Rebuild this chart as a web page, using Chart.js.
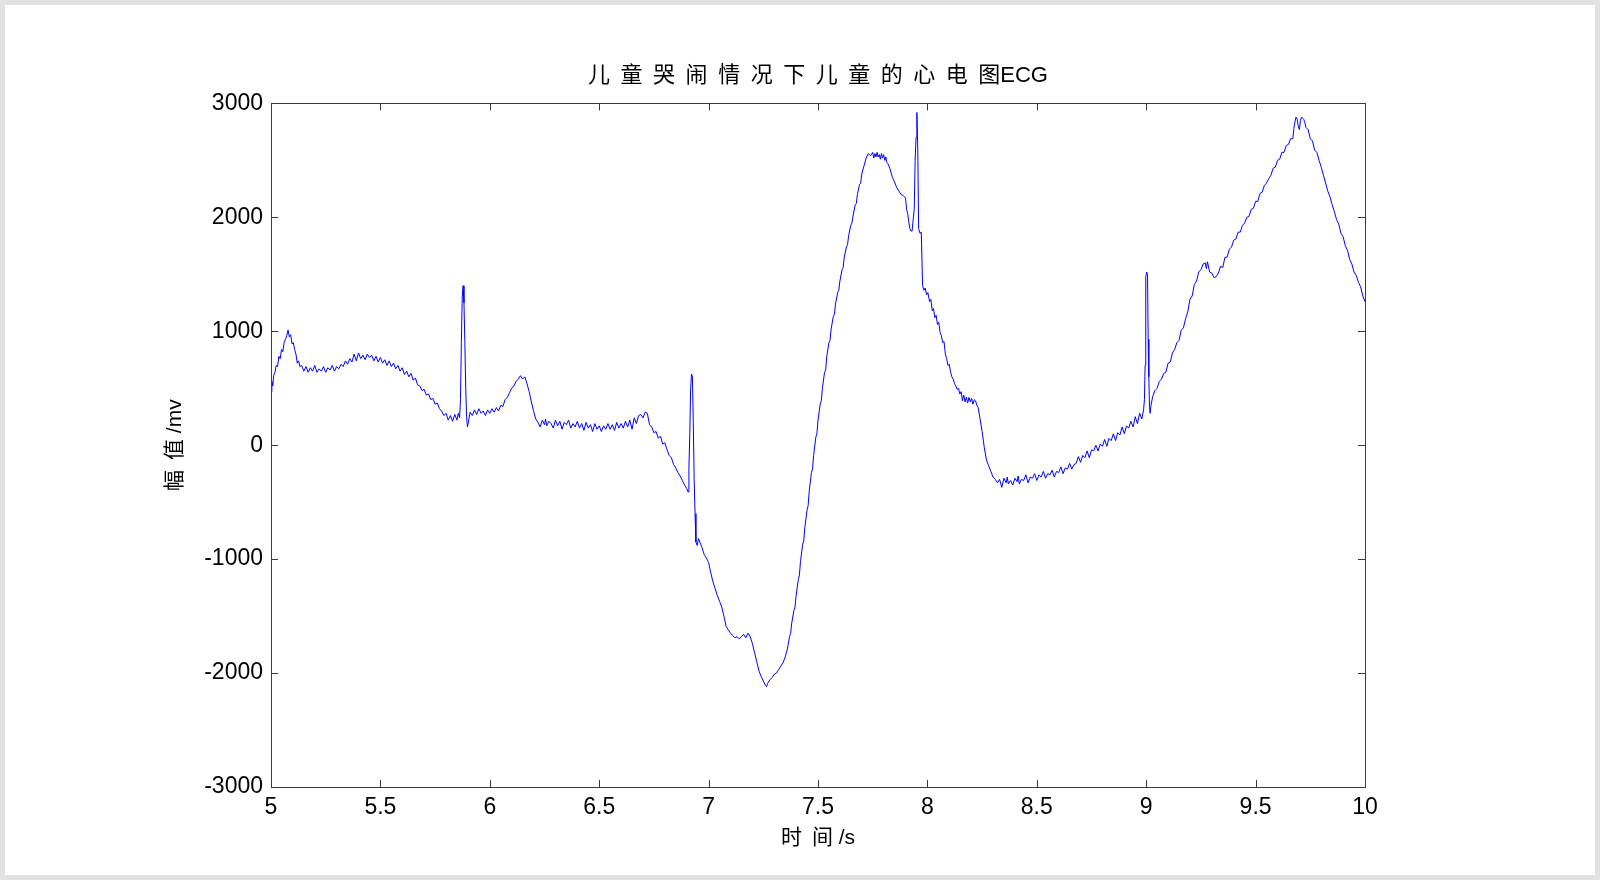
<!DOCTYPE html>
<html>
<head>
<meta charset="utf-8">
<script src="https://cdn.jsdelivr.net/npm/chart.js@4.4.1/dist/chart.umd.min.js"></script>
<style>
  html, body { margin: 0; padding: 0; background: #e2e2e2; }
  #frame { position: absolute; left: 5px; top: 5px; width: 1590px; height: 870px; background: #fff; }
</style>
</head>
<body>
<div id="frame"><canvas id="ecgChart"></canvas></div>
<script>
// 儿童哭闹情况下儿童的心电图 ECG, 5 s - 10 s
const gap = ' \u2009';
const chartTitle = Array.from('儿童哭闹情况下儿童的心电图').join(gap) + 'ECG';
const xAxisTitle = '时' + gap + '间 /s';
const yAxisTitle = '幅' + gap + '值 /mv';

const xTickValues = [5, 5.5, 6, 6.5, 7, 7.5, 8, 8.5, 9, 9.5, 10];
const xTickLabels = ['5', '5.5', '6', '6.5', '7', '7.5', '8', '8.5', '9', '9.5', '10'];
const yTickValues = [-3000, -2000, -1000, 0, 1000, 2000, 3000];
const yTickLabels = ['-3000', '-2000', '-1000', '0', '1000', '2000', '3000'];

// [time (s), amplitude (mV)]
const ecgTrace = [
  [5.000, 470], [5.004, 560], [5.008, 520], [5.012, 610], [5.018, 640], [5.024, 700], [5.030, 690],
  [5.036, 780], [5.042, 760], [5.048, 840], [5.054, 820], [5.060, 900], [5.066, 930], [5.072, 960],
  [5.078, 1010], [5.084, 950], [5.090, 970], [5.096, 890], [5.102, 900], [5.108, 840], [5.114, 800],
  [5.120, 720], [5.126, 740], [5.132, 690],
  [5.140, 700], [5.150, 650], [5.160, 690], [5.170, 640], [5.180, 680], [5.190, 650], [5.200, 700],
  [5.210, 640], [5.220, 670], [5.230, 650], [5.240, 690], [5.250, 640], [5.260, 680], [5.270, 660],
  [5.280, 700], [5.290, 650], [5.300, 690], [5.310, 670], [5.320, 710],
  [5.330, 690], [5.340, 740], [5.350, 710], [5.360, 760], [5.370, 730], [5.380, 800], [5.390, 740],
  [5.400, 810], [5.410, 760], [5.420, 790], [5.430, 750], [5.440, 800], [5.450, 770], [5.460, 790],
  [5.470, 740], [5.480, 780], [5.490, 730], [5.500, 770], [5.510, 720], [5.520, 750], [5.530, 700],
  [5.540, 740], [5.550, 690], [5.560, 720],
  [5.570, 670], [5.580, 700], [5.590, 650], [5.600, 680], [5.610, 620], [5.620, 650], [5.630, 600],
  [5.640, 630], [5.650, 570], [5.660, 590], [5.670, 530], [5.680, 520], [5.690, 480], [5.700, 490],
  [5.710, 440], [5.720, 450], [5.730, 400], [5.740, 410], [5.750, 360], [5.760, 370], [5.770, 320],
  [5.780, 300], [5.790, 260], [5.800, 280], [5.810, 220], [5.820, 260], [5.830, 210], [5.840, 270],
  [5.850, 220], [5.856, 280], [5.862, 240],
  [5.866, 400], [5.870, 900], [5.874, 1300], [5.878, 1400], [5.882, 1250], [5.886, 900], [5.890, 500],
  [5.894, 250], [5.898, 160], [5.902, 200],
  [5.910, 290], [5.920, 260], [5.930, 310], [5.940, 270], [5.950, 320], [5.960, 280], [5.970, 300],
  [5.980, 260], [5.990, 310], [6.000, 280], [6.010, 320], [6.020, 290], [6.030, 330], [6.040, 300],
  [6.050, 350], [6.060, 340], [6.070, 400], [6.080, 420], [6.090, 460], [6.100, 500], [6.110, 520],
  [6.120, 560], [6.130, 580], [6.140, 610], [6.150, 580], [6.160, 600], [6.170, 540], [6.180, 470],
  [6.190, 380], [6.200, 300], [6.210, 230],
  [6.220, 200], [6.230, 160], [6.240, 220], [6.250, 180], [6.255, 230], [6.260, 170], [6.270, 210],
  [6.280, 190], [6.290, 150], [6.300, 220], [6.310, 170], [6.320, 210], [6.330, 140], [6.340, 200],
  [6.350, 180], [6.360, 220], [6.370, 150], [6.380, 190], [6.390, 160], [6.400, 210], [6.410, 150],
  [6.420, 190], [6.430, 130], [6.440, 200], [6.450, 150], [6.460, 180], [6.470, 120], [6.480, 190],
  [6.490, 140], [6.500, 170], [6.510, 120], [6.520, 170], [6.530, 140], [6.540, 190], [6.550, 140],
  [6.560, 180], [6.570, 130], [6.580, 200], [6.590, 150], [6.600, 190], [6.610, 150], [6.620, 210],
  [6.630, 160], [6.640, 220], [6.650, 140], [6.660, 240], [6.670, 190], [6.680, 260],
  [6.690, 270], [6.700, 240], [6.710, 290], [6.720, 280], [6.730, 180], [6.740, 160], [6.750, 110],
  [6.760, 120], [6.770, 60], [6.780, 80], [6.790, 10], [6.800, 20], [6.810, -40], [6.820, -90],
  [6.830, -110], [6.840, -170], [6.850, -200], [6.860, -240], [6.870, -270], [6.880, -310],
  [6.890, -350], [6.900, -380], [6.906, -410], [6.910, -200],
  [6.914, 100], [6.918, 500], [6.922, 625], [6.926, 600], [6.930, 200], [6.934, -300], [6.938, -600],
  [6.942, -850], [6.948, -880], [6.954, -820], [6.960, -850],
  [6.970, -900], [6.980, -960], [6.990, -990], [7.000, -1030], [7.010, -1120], [7.020, -1200],
  [7.030, -1260], [7.040, -1320], [7.050, -1370], [7.060, -1420], [7.070, -1500], [7.080, -1590],
  [7.090, -1620], [7.100, -1650], [7.110, -1670], [7.120, -1690], [7.130, -1680], [7.140, -1700],
  [7.150, -1680], [7.160, -1660], [7.170, -1690], [7.180, -1650], [7.190, -1680], [7.200, -1740],
  [7.210, -1820], [7.220, -1900], [7.230, -1980], [7.240, -2030], [7.250, -2070], [7.260, -2110],
  [7.265, -2120], [7.270, -2090], [7.280, -2060], [7.290, -2040], [7.300, -2010], [7.310, -2000],
  [7.320, -1970], [7.330, -1940], [7.340, -1910], [7.350, -1860], [7.360, -1790],
  [7.370, -1680], [7.375, -1650], [7.380, -1560], [7.390, -1450], [7.395, -1420], [7.400, -1320],
  [7.410, -1180], [7.415, -1140], [7.420, -1020], [7.430, -870], [7.435, -840], [7.440, -720],
  [7.450, -570], [7.455, -530], [7.460, -400], [7.470, -240], [7.475, -210], [7.480, -90],
  [7.490, 70], [7.495, 100], [7.500, 220], [7.510, 360], [7.515, 390], [7.520, 500], [7.530, 640],
  [7.535, 660], [7.540, 780], [7.550, 900], [7.555, 920], [7.560, 1020], [7.570, 1130],
  [7.575, 1150], [7.580, 1240], [7.590, 1340], [7.595, 1360], [7.600, 1440], [7.610, 1540],
  [7.615, 1560], [7.620, 1650], [7.630, 1740], [7.635, 1760], [7.640, 1840], [7.650, 1930],
  [7.655, 1950], [7.660, 2010], [7.670, 2110], [7.675, 2120], [7.680, 2200], [7.690, 2290],
  [7.695, 2300], [7.700, 2380], [7.710, 2450], [7.720, 2520], [7.730, 2560],
  [7.740, 2540], [7.750, 2570], [7.755, 2520], [7.760, 2560], [7.765, 2530], [7.770, 2570],
  [7.775, 2530], [7.780, 2550], [7.785, 2510], [7.790, 2560], [7.795, 2520], [7.800, 2550],
  [7.805, 2500], [7.810, 2530], [7.815, 2480], [7.820, 2470], [7.830, 2420], [7.840, 2350],
  [7.850, 2310], [7.860, 2260], [7.870, 2230], [7.880, 2200], [7.890, 2190], [7.900, 2170],
  [7.905, 2070], [7.910, 2030], [7.915, 1960], [7.920, 1900], [7.925, 1880],
  [7.930, 1880], [7.936, 2000], [7.940, 2080], [7.944, 2500], [7.948, 2700], [7.952, 2920],
  [7.956, 2600], [7.960, 1900], [7.966, 1860], [7.972, 1870],
  [7.978, 1400], [7.984, 1360], [7.990, 1380], [7.996, 1320], [8.002, 1340], [8.010, 1260],
  [8.016, 1280], [8.022, 1180], [8.028, 1200], [8.034, 1120], [8.040, 1140], [8.046, 1060],
  [8.052, 1080], [8.058, 990], [8.064, 960], [8.070, 900], [8.076, 910], [8.082, 800], [8.088, 760],
  [8.094, 700], [8.100, 710], [8.106, 640], [8.112, 600], [8.118, 580], [8.124, 540], [8.130, 520],
  [8.136, 490], [8.142, 500], [8.148, 450], [8.154, 470], [8.160, 390], [8.166, 440], [8.172, 380],
  [8.178, 420], [8.184, 370], [8.190, 420], [8.196, 380], [8.202, 410], [8.208, 360], [8.214, 400],
  [8.220, 390], [8.226, 350], [8.232, 330],
  [8.240, 240], [8.250, 120], [8.260, -20], [8.270, -130], [8.280, -180], [8.290, -230],
  [8.300, -280], [8.310, -300], [8.320, -330],
  [8.330, -300], [8.340, -370], [8.350, -290], [8.360, -330], [8.365, -280], [8.370, -340],
  [8.380, -310], [8.390, -350], [8.400, -290], [8.410, -320], [8.415, -270], [8.420, -340],
  [8.430, -300], [8.440, -310], [8.450, -260], [8.460, -330], [8.470, -280], [8.480, -290],
  [8.490, -250], [8.500, -310], [8.510, -260], [8.520, -280], [8.530, -230], [8.540, -290],
  [8.550, -250], [8.560, -260], [8.570, -220], [8.580, -280], [8.590, -230], [8.600, -240],
  [8.610, -190], [8.620, -250], [8.630, -200], [8.640, -210], [8.650, -160], [8.660, -210],
  [8.670, -170], [8.680, -160], [8.690, -100], [8.700, -150], [8.710, -90], [8.720, -110],
  [8.730, -50], [8.740, -110], [8.750, -40], [8.760, -50], [8.770, 0], [8.780, -50], [8.790, 10],
  [8.800, -10], [8.810, 50], [8.820, -10], [8.830, 60], [8.840, 40], [8.850, 100], [8.860, 40],
  [8.870, 110], [8.880, 90], [8.890, 160], [8.900, 100], [8.910, 170], [8.920, 150], [8.930, 210],
  [8.940, 160], [8.950, 250], [8.960, 190], [8.970, 280], [8.980, 230], [8.988, 310],
  [8.992, 400], [8.995, 700], [8.998, 1480], [9.002, 1520], [9.006, 1500], [9.009, 930],
  [9.012, 600], [9.015, 340], [9.018, 280], [9.022, 350],
  [9.030, 430], [9.040, 480], [9.050, 500], [9.060, 560], [9.070, 580], [9.080, 630], [9.090, 640],
  [9.100, 720], [9.110, 730], [9.120, 810], [9.130, 840], [9.140, 900], [9.150, 920], [9.160, 1010],
  [9.170, 1030], [9.180, 1110], [9.190, 1170], [9.200, 1280], [9.210, 1310], [9.220, 1410],
  [9.230, 1440], [9.240, 1520], [9.250, 1540], [9.260, 1590], [9.270, 1600], [9.275, 1550],
  [9.280, 1610], [9.290, 1520], [9.300, 1510], [9.310, 1470], [9.320, 1480], [9.330, 1510],
  [9.340, 1570], [9.350, 1560], [9.360, 1650], [9.370, 1650], [9.380, 1720], [9.390, 1740],
  [9.400, 1800], [9.410, 1810], [9.420, 1870], [9.430, 1870], [9.440, 1930], [9.450, 1950],
  [9.460, 2000], [9.470, 2010], [9.480, 2070], [9.490, 2080], [9.500, 2140], [9.510, 2140],
  [9.520, 2210], [9.530, 2220], [9.540, 2280], [9.550, 2300], [9.560, 2340], [9.570, 2370],
  [9.580, 2430], [9.590, 2440], [9.600, 2500], [9.610, 2510], [9.620, 2570], [9.630, 2570],
  [9.640, 2630], [9.650, 2640], [9.660, 2690], [9.670, 2690], [9.675, 2780], [9.680, 2840],
  [9.685, 2880], [9.690, 2860], [9.695, 2800], [9.700, 2770], [9.705, 2850], [9.710, 2880],
  [9.715, 2870], [9.720, 2860], [9.725, 2830], [9.730, 2790], [9.740, 2770], [9.750, 2690],
  [9.760, 2670], [9.770, 2590], [9.780, 2570], [9.790, 2500], [9.800, 2440], [9.810, 2370],
  [9.820, 2300], [9.830, 2230], [9.840, 2180], [9.850, 2110], [9.860, 2050], [9.870, 1980],
  [9.880, 1940], [9.890, 1860], [9.900, 1830], [9.910, 1750], [9.920, 1710], [9.930, 1630],
  [9.940, 1590], [9.950, 1520], [9.960, 1490], [9.970, 1430], [9.980, 1390], [9.990, 1310],
  [10.000, 1260]
];

const fontFamily = '"Liberation Sans", Arial, "Noto Sans CJK SC", sans-serif';

// MATLAB-style box with inward tick marks on all four sides
const boxTicks = {
  id: 'boxTicks',
  afterDatasetsDraw(chart) {
    const { ctx, chartArea: a, scales: { x, y } } = chart;
    const len = 7;
    ctx.save();
    ctx.strokeStyle = '#3a3a3a';
    ctx.lineWidth = 1;
    ctx.beginPath();
    xTickValues.forEach(v => {
      const px = Math.round(x.getPixelForValue(v)) + 0.5;
      ctx.moveTo(px, a.bottom); ctx.lineTo(px, a.bottom - len);
      ctx.moveTo(px, a.top); ctx.lineTo(px, a.top + len);
    });
    yTickValues.forEach(v => {
      const py = Math.round(y.getPixelForValue(v)) + 0.5;
      ctx.moveTo(a.left, py); ctx.lineTo(a.left + len, py);
      ctx.moveTo(a.right, py); ctx.lineTo(a.right - len, py);
    });
    ctx.stroke();
    ctx.strokeRect(Math.round(a.left) + 0.5, Math.round(a.top) + 0.5,
      Math.round(a.right - a.left), Math.round(a.bottom - a.top));
    ctx.restore();
  }
};

const ctx = document.getElementById('ecgChart').getContext('2d');
const ecgChart = new Chart(ctx, {
  type: 'line',
  data: {
    datasets: [{
      data: ecgTrace.map(([t, v]) => ({ x: t, y: v })),
      borderColor: 'rgb(0, 0, 255)',
      borderWidth: 1,
      pointRadius: 0,
      tension: 0,
      fill: false
    }]
  },
  options: {
    responsive: true,
    maintainAspectRatio: false,
    animation: false,
    layout: { padding: { left: 150, right: 230, top: 50, bottom: 20 } },
    plugins: {
      legend: { display: false },
      tooltip: { enabled: false },
      title: {
        display: true,
        fullSize: false,
        text: chartTitle,
        color: '#000',
        font: { family: fontFamily, size: 22, weight: 'normal' },
        padding: { top: 8, bottom: 14 }
      }
    },
    scales: {
      x: {
        type: 'linear',
        min: 5,
        max: 10,
        afterBuildTicks: s => { s.ticks = xTickValues.map(v => ({ value: v })); },
        afterFit: s => { s.height = 68; },
        grid: { display: false, drawTicks: false },
        border: { display: false },
        ticks: {
          color: '#000',
          padding: 7,
          maxRotation: 0,
          autoSkip: false,
          font: { family: fontFamily, size: 23 },
          callback: (val, i) => xTickLabels[i]
        },
        title: {
          display: true,
          text: xAxisTitle,
          color: '#000',
          font: { family: fontFamily, size: 21 },
          padding: { top: 0, bottom: 4 }
        }
      },
      y: {
        min: -3000,
        max: 3000,
        afterBuildTicks: s => { s.ticks = yTickValues.map(v => ({ value: v })); },
        afterFit: s => { s.width = 116; },
        grid: { display: false, drawTicks: false },
        border: { display: false },
        ticks: {
          color: '#000',
          padding: 8,
          autoSkip: false,
          font: { family: fontFamily, size: 23 },
          callback: (val, i) => yTickLabels[i]
        },
        title: {
          display: true,
          text: yAxisTitle,
          color: '#000',
          font: { family: fontFamily, size: 21 },
          padding: { top: 8, bottom: 0 }
        }
      }
    }
  },
  plugins: [boxTicks]
});
</script>
</body>
</html>
